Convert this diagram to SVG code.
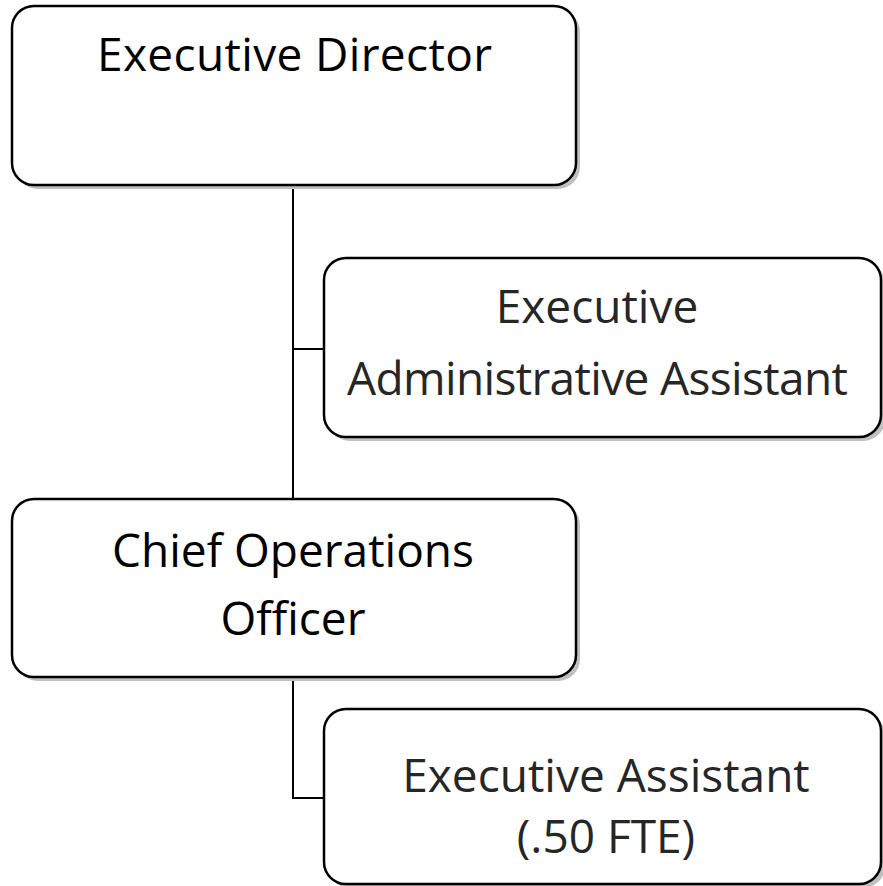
<svg xmlns="http://www.w3.org/2000/svg" width="883" height="886" viewBox="0 0 883 886">
<style>
.shadow{fill:#c0c0c0;stroke:none}
.box{fill:#fff;stroke:#000;stroke-width:2.5}
.conn{fill:none;stroke:#000;stroke-width:2}
text{font-family:"Open Sans","Noto Sans",sans-serif;font-size:46px;text-anchor:middle}
.t1{fill:#000}
.t2{fill:#262626}
</style>
<rect width="883" height="886" fill="#fff"/>
<g id="connectors">
<path class="conn" d="M293,185 V499 M293,349 H325"/>
<path class="conn" d="M293,677 V798 H325"/>
</g>
<g id="executive-director">
<rect class="shadow" x="16" y="10" width="564" height="179" rx="22"/>
<rect class="box" x="12" y="6" width="564" height="179" rx="22"/>
<text class="t1" x="294.5" y="71" textLength="395">Executive Director</text>
</g>
<g id="executive-administrative-assistant">
<rect class="shadow" x="328" y="262" width="557" height="179" rx="22"/>
<rect class="box" x="324" y="258" width="557" height="179" rx="22"/>
<text class="t2" x="597" y="323">Executive</text>
<text class="t2" x="597.5" y="395" textLength="501">Administrative Assistant</text>
</g>
<g id="chief-operations-officer">
<rect class="shadow" x="16" y="503" width="564" height="178" rx="22"/>
<rect class="box" x="12" y="499" width="564" height="178" rx="22"/>
<text class="t1" x="293" y="567">Chief Operations</text>
<text class="t1" x="293" y="635">Officer</text>
</g>
<g id="executive-assistant">
<rect class="shadow" x="328" y="713" width="557" height="175" rx="22"/>
<rect class="box" x="324" y="709" width="557" height="175" rx="22"/>
<text class="t2" x="606" y="792">Executive Assistant</text>
<text class="t2" x="606" y="853">(.50 FTE)</text>
</g>
</svg>
